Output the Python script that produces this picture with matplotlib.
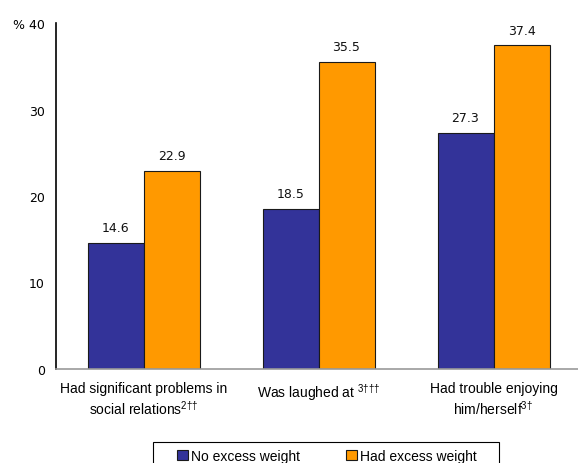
import matplotlib
matplotlib.use("Agg")
import matplotlib.pyplot as plt
from matplotlib.patches import Rectangle
import numpy as np

categories = ["Had significant problems in\nsocial relations$^{2\u2020\u2020}$",
              "Was laughed at $^{3\u2020\u2020\u2020}$",
              "Had trouble enjoying\nhim/herself$^{3\u2020}$"]
series_names = ["No excess weight", "Had excess weight"]
no_excess = [14.6, 18.5, 27.3]
had_excess = [22.9, 35.5, 37.4]
yticks = [0, 10, 20, 30, 40]
ytick_labels = ["0", "10", "20", "30", "% 40"]

plt.rcParams['mathtext.fontset'] = 'custom'
plt.rcParams['mathtext.rm'] = 'Liberation Sans'
plt.rcParams['mathtext.it'] = 'Liberation Sans'
plt.rcParams['mathtext.default'] = 'rm'

fig = plt.figure(figsize=(5.78, 4.64), dpi=100)
ax = fig.add_axes([56/578, 1-370/464, 525/578, 346/464])

x = np.arange(len(categories))
w = 0.32
c1, c2 = "#333399", "#FF9900"
b1 = ax.bar(x - w/2, no_excess, w, color=c1, edgecolor="#1a1a1a", linewidth=0.8, label=series_names[0])
b2 = ax.bar(x + w/2, had_excess, w, color=c2, edgecolor="#1a1a1a", linewidth=0.8, label=series_names[1])

for bars, vals in ((b1, no_excess), (b2, had_excess)):
    for r, v in zip(bars, vals):
        ax.text(r.get_x() + r.get_width()/2, v + 1.0, f"{v:.1f}", ha="center", va="bottom",
                fontsize=9, family="DejaVu Sans", color="#111111")

ax.set_xlim(-0.5, 2.5)
ax.set_ylim(0, 40)
ax.set_yticks(yticks)
ax.set_yticklabels(ytick_labels, family="DejaVu Sans", fontsize=9)
ax.set_xticks(x)
ax.set_xticklabels(categories, family="Liberation Sans", fontsize=10, linespacing=1.2)
ax.tick_params(axis="both", length=0, pad=8)
ax.tick_params(axis="x", pad=9)
for s in ("top", "right"):
    ax.spines[s].set_visible(False)
ax.spines["left"].set_color("black")
ax.spines["left"].set_linewidth(1.2)
ax.spines["bottom"].set_color("#999999")
ax.spines["bottom"].set_linewidth(1.2)

# legend box (cut off at bottom as in the reference)
fig.patches.append(Rectangle((153/578, -0.02), (499-153)/578, 0.02 + 1-443/464,
                             transform=fig.transFigure, fill=False,
                             edgecolor="black", linewidth=0.8))
leg = fig.legend(handles=[b1, b2], loc="center left", bbox_to_anchor=(177/578, 1-457/464),
                 ncol=2, frameon=False,
                 prop={"family": "Liberation Sans", "size": 10},
                 handlelength=0.8, handleheight=0.8, handletextpad=0.2, columnspacing=3.3,
                 borderpad=0, borderaxespad=0)

fig.savefig("out.png", dpi=100)
